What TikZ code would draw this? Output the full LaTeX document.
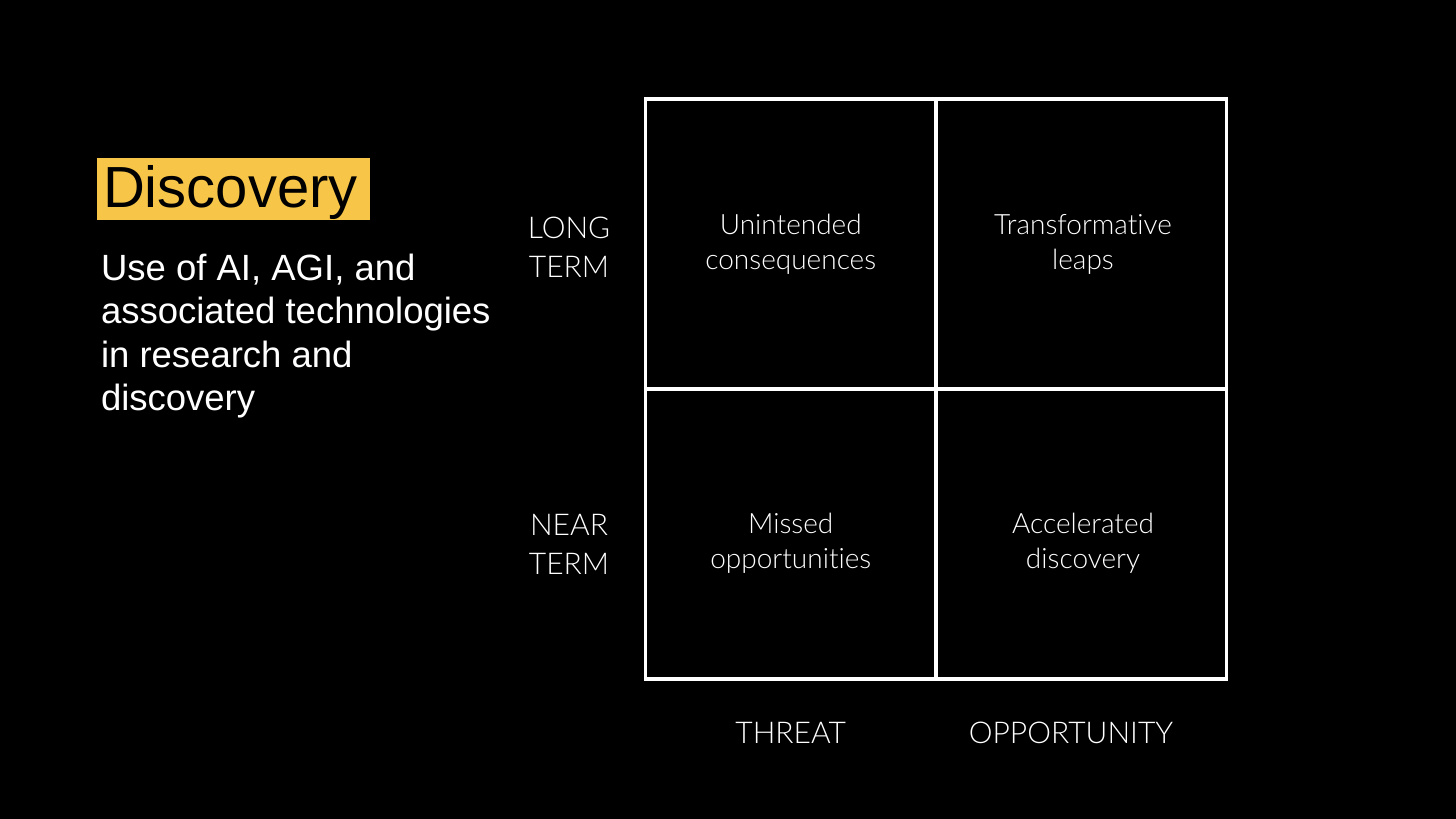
\documentclass[tikz,border=0pt]{standalone}
\usepackage{fontspec}
\setmainfont{Liberation Sans}
\newfontfamily\lightfont[Ligatures={NoCommon,NoRare}]{Lato Light}
\definecolor{discyellow}{HTML}{F7C548}
\begin{document}
\begin{tikzpicture}[x=1pt,y=-1pt,
  cell/.style={draw=white, line width=3.5pt, minimum width=290.5pt, minimum height=290pt, inner sep=0pt, outer sep=0pt, anchor=north west},
  celltext/.style={text=white, font=\lightfont\fontsize{28}{35}\selectfont, align=center, inner sep=0pt},
  axistext/.style={text=white, font=\lightfont\fontsize{30}{39}\selectfont, align=center, inner sep=0pt},
  titlebox/.style={fill=discyellow, text=black, font=\fontsize{58}{62}\selectfont, anchor=north west, inner xsep=6pt, inner ysep=0pt, outer sep=0pt, text width=261pt, align=left, text height=49pt, text depth=13pt},
  desctext/.style={text=white, font=\fontsize{36.5}{43.5}\selectfont, align=left, inner sep=0pt, outer sep=0pt, anchor=north west}]
\useasboundingbox (0,0) rectangle (1456,819);
\fill[black] (0,0) rectangle (1456,819);
% title and description
\node[titlebox] (title) at (97,158) {Discovery};
\node[desctext] (desc) at (101,254) {Use of AI, AGI, and\\associated technologies\\in research and\\discovery};
% grid cells
\node[cell] (tl) at (645.5,99) {};
\node[cell] (tr) at (936,99) {};
\node[cell] (bl) at (645.5,389) {};
\node[cell] (br) at (936,389) {};
% cell texts
\node[celltext] (t1) at (790.75,244.5) {Unintended\\consequences};
\node[celltext] (t2) at (1083,244.5) {Transformative\\leaps};
\node[celltext] (t3) at (790.75,543.5) {Missed\\opportunities};
\node[celltext] (t4) at (1083,543.5) {Accelerated\\discovery};
% axis labels
\node[axistext] (long) at (569,247) {LONG\\TERM};
\node[axistext] (near) at (569,544) {NEAR\\TERM};
\node[axistext, anchor=base] (threat) at (790.75,743) {THREAT};
\node[axistext, anchor=base] (opp) at (1071,743) {OPPORTUNITY};
\end{tikzpicture}
\end{document}
